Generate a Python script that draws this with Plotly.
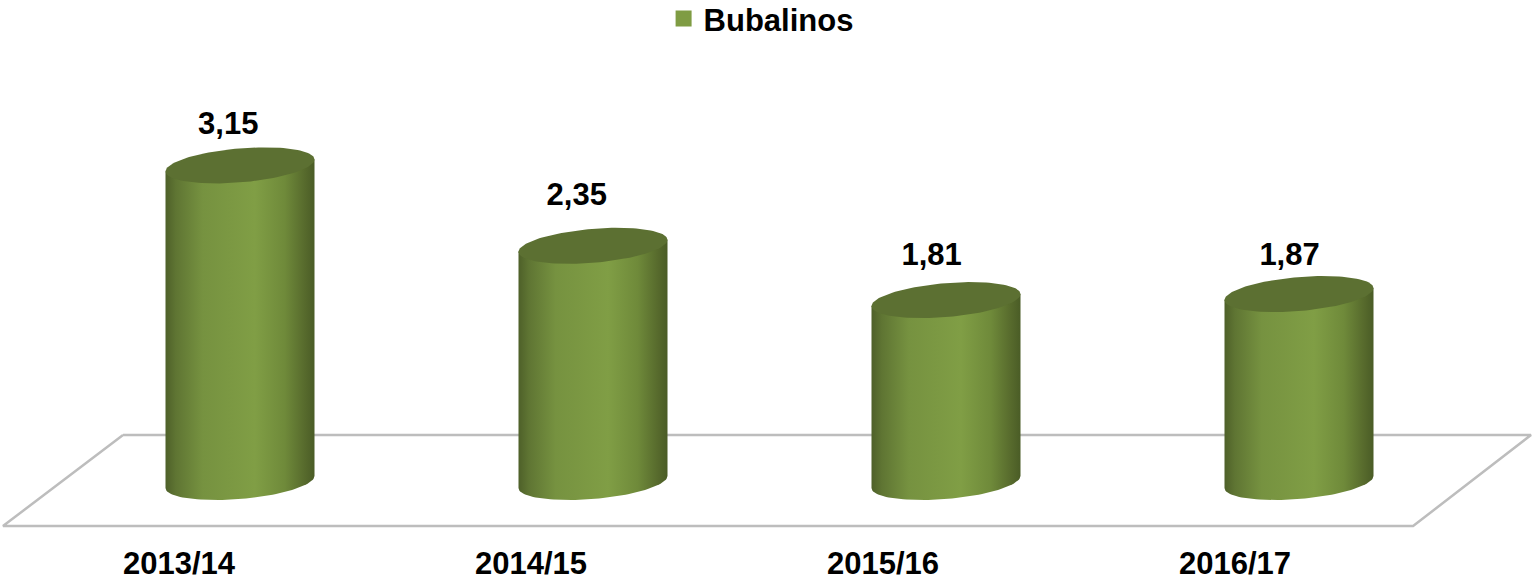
import numpy as np
import plotly.graph_objects as go

categories = ["2013/14", "2014/15", "2015/16", "2016/17"]
series_name = "Bubalinos"
values = [3.15, 2.35, 1.81, 1.87]
value_text = ["3,15", "2,35", "1,81", "1,87"]

# value-label nudges (axis units), from the picture
label_dx = [0.140, 0.130, 0.138, 0.155]
label_dy = [0.39, 0.48, 0.43, 0.37]

W, H, BOTTOM = 1532, 582, 40
PX_X, X0 = 352.0, 179.0        # px per category, px of first tick
PX_Y, Y0 = 100.5, 482.0        # px per unit, px of zero
xr = [-X0 / PX_X, (W - X0) / PX_X]
yr = [(Y0 - (H - BOTTOM)) / PX_Y, Y0 / PX_Y]

BAR_OFF = 0.1733               # 3D depth shift of cylinders from ticks
BAR_STEP = 353.0 / PX_X        # cylinder spacing, slightly wider than ticks
A = 74.5 / PX_X                # ellipse half width
B = 17.0 / PX_Y                # ellipse half height
S = 6.0 / PX_Y                 # ellipse tilt

SIDE = [[0, "#4e6029"], [0.07, "#5f7533"], [0.25, "#769240"], [0.6, "#809e45"],
        [0.8, "#6f8a3a"], [0.94, "#56692c"], [1, "#4a5c26"]]
TOP = "#5c7032"
FLOOR = "#bdbdbd"
FONT = dict(family="Liberation Sans", size=31, color="#000000", weight=700)

fig = go.Figure()

# floor of the 3D plot
fx = [-0.159, 3.841, 3.506, -0.500, -0.159]
fy = [0.468, 0.468, -0.438, -0.438, 0.468]
fig.add_trace(go.Scatter(x=fx, y=fy, mode="lines", showlegend=False, hoverinfo="skip",
                         line=dict(color=FLOOR, width=2.5)))

for i, v in enumerate(values):
    cx = i * BAR_STEP + BAR_OFF
    lower = np.linspace(np.pi, 2 * np.pi, 60)
    bx = cx + A * np.cos(lower)
    by = B * np.sin(lower) + S * np.cos(lower)
    body_x = list(bx) + [cx + A, cx - A, bx[0]]
    body_y = list(by) + [v + S, v - S, by[0]]
    fig.add_trace(go.Scatter(
        x=body_x, y=body_y, mode="lines", fill="toself", showlegend=False, hoverinfo="skip",
        line=dict(width=0, color="rgba(0,0,0,0)"),
        fillgradient=dict(type="horizontal", colorscale=SIDE, start=cx - A, stop=cx + A)))
    full = np.linspace(0, 2 * np.pi, 120)
    fig.add_trace(go.Scatter(
        x=cx + A * np.cos(full), y=v + B * np.sin(full) + S * np.cos(full),
        mode="lines", fill="toself", fillcolor=TOP, showlegend=False, hoverinfo="skip",
        line=dict(width=0, color="rgba(0,0,0,0)")))

# value labels
fig.add_trace(go.Scatter(
    x=[i + dx for i, dx in enumerate(label_dx)],
    y=[v + dy for v, dy in zip(values, label_dy)],
    mode="text", text=value_text, textposition="middle center",
    textfont=FONT, showlegend=False, hoverinfo="skip", cliponaxis=False))

# legend entry
fig.add_trace(go.Scatter(x=[None], y=[None], mode="markers", name=series_name,
                         marker=dict(symbol="square", size=16, color="#7f9c43")))

fig.update_layout(
    width=W, height=H, margin=dict(l=0, r=0, t=0, b=BOTTOM, pad=0, autoexpand=False),
    paper_bgcolor="white", plot_bgcolor="white", font=FONT,
    showlegend=True,
    legend=dict(orientation="h", x=0.4968, xanchor="center", y=1.015, yanchor="top",
                font=FONT, bgcolor="rgba(0,0,0,0)"),
    xaxis=dict(range=xr, tickmode="array", tickvals=list(range(len(categories))),
               ticktext=categories, showgrid=False, zeroline=False, showline=False,
               ticks="", tickfont=FONT),
    yaxis=dict(range=yr, visible=False, showgrid=False, zeroline=False),
)

fig.write_html("out.html", config=dict(displayModeBar=False),
               post_script="document.body.style.margin='0';document.documentElement.style.overflow='hidden';")
